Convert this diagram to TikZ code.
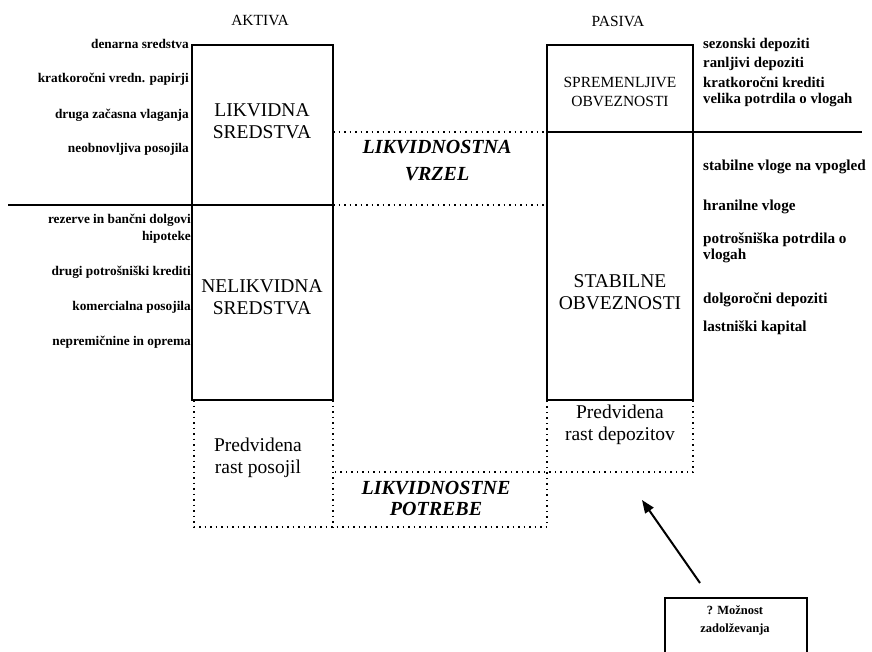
\documentclass[tikz,border=0pt]{standalone}
\usepackage{fontspec}
\setmainfont{Liberation Serif}
\usetikzlibrary{arrows.meta}
\begin{document}
\begin{tikzpicture}[x=1pt,y=-1pt,
  solidline/.style={line width=2pt},
  dotline/.style={line width=1.5pt, dash pattern=on 1.5pt off 4pt},
  hdr/.style={font=\fontsize{15.5}{18}\selectfont, inner sep=0},
  big/.style={font=\fontsize{19.5}{22}\selectfont, align=center, inner sep=0},
  mid/.style={font=\fontsize{15.5}{19}\selectfont, align=center, inner sep=0},
  gap/.style={align=center, inner sep=0},
  llab/.style={font=\fontsize{13.3}{14}\selectfont\bfseries, anchor=east, inner sep=0},
  rlab/.style={font=\fontsize{14.8}{16}\selectfont\bfseries, anchor=west, inner sep=0},
  rlabb/.style={font=\fontsize{15.2}{16.5}\selectfont\bfseries, anchor=west, inner sep=0, align=left},
  small/.style={font=\fontsize{12.5}{18}\selectfont\bfseries, align=center, inner sep=0},
  arr/.style={line width=2pt, -{Triangle[length=13pt,width=10pt]}}
]
\useasboundingbox (0,0) rectangle (872,652);

% headers
\node[hdr] (aktiva) at (260,21) {AKTIVA};
\node[hdr] (pasiva) at (618,21) {PASIVA};

% main boxes
\draw[solidline] (192,45) rectangle (333,400);
\draw[solidline] (8,205) -- (333,205);
\draw[solidline] (547,45) rectangle (693,400);
\draw[solidline] (547,132) -- (862,132);

% dotted gap lines
\draw[dotline] (333,132) -- (547,132);
\draw[dotline] (333,205) -- (547,205);

% dotted lower boxes
\draw[dotline] (194,400) -- (194,527) -- (547,527) -- (547,400);
\draw[dotline] (333,400) -- (333,527);
\draw[dotline] (693,400) -- (693,472) -- (333,472);

% box texts
\node[big] (likv) at (262,121) {LIKVIDNA\\SREDSTVA};
\node[big] (nelikv) at (262,297) {NELIKVIDNA\\SREDSTVA};
\node[mid] (sprem) at (620,92) {SPREMENLJIVE\\OBVEZNOSTI};
\node[big] (stab) at (620,292) {STABILNE\\OBVEZNOSTI};
\node[gap, font=\fontsize{20}{27}\selectfont\bfseries\itshape] (vrzel) at (437,161) {LIKVIDNOSTNA\\VRZEL};
\node[gap, font=\fontsize{20}{21}\selectfont\bfseries\itshape] (potr) at (436,498) {LIKVIDNOSTNE\\POTREBE};
\node[big] (rastpos) at (258,458) {Predvidena\\rast posojil};
\node[big] (rastdep) at (620,425) {Predvidena\\rast depozitov};

% left labels
\node[llab] (l1) at (189,44) {denarna sredstva};
\node[llab] (l2) at (189,79) {kratkoročni vredn. papirji};
\node[llab] (l3) at (189,115) {druga začasna vlaganja};
\node[llab] (l4) at (189,149) {neobnovljiva posojila};
\node[llab] (l5) at (191,220) {rezerve in bančni dolgovi};
\node[llab] (l6) at (191,237) {hipoteke};
\node[llab] (l7) at (191,272) {drugi potrošniški krediti};
\node[llab] (l8) at (191,307) {komercialna posojila};
\node[llab] (l9) at (191,342) {nepremičnine in oprema};

% right labels, top
\node[rlab] (r1) at (703,45) {sezonski depoziti};
\node[rlab] (r2) at (703,63.5) {ranljivi depoziti};
\node[rlab] (r3) at (703,82) {kratkoročni krediti};
\node[rlab] (r4) at (703,100.5) {velika potrdila o vlogah};

% right labels, lower
\node[rlabb] (r5) at (703,167) {stabilne vloge na vpogled};
\node[rlabb] (r6) at (703,207) {hranilne vloge};
\node[rlabb] (r7) at (703,248) {potrošniška potrdila o\\vlogah};
\node[rlabb] (r8) at (703,300) {dolgoročni depoziti};
\node[rlabb] (r9) at (703,328) {lastniški kapital};

% borrowing box (open at bottom)
\draw[solidline] (665,652) -- (665,598) -- (807,598) -- (807,652);
\node[small] (zad) at (735,620) {? Možnost\\zadolževanja};

% arrow
\coordinate (atail) at (700,583);
\coordinate (ahead) at (642,500);
\draw[arr] (atail) -- (ahead);
\end{tikzpicture}
\end{document}
